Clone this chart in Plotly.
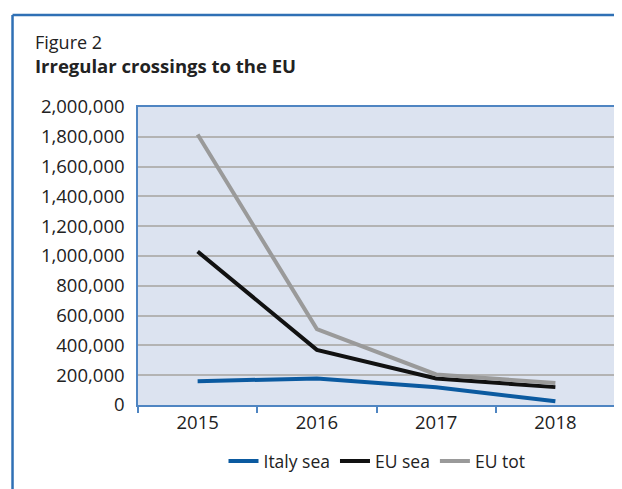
import plotly.graph_objects as go

years = ["2015", "2016", "2017", "2018"]
italy_sea = [160000, 178000, 119000, 25000]
eu_sea = [1030000, 370000, 178000, 120000]
eu_tot = [1815000, 510000, 205000, 147000]

series = [
    ("Italy sea", italy_sea, "#0b5aa0"),
    ("EU sea", eu_sea, "#111111"),
    ("EU tot", eu_tot, "#9a9a9a"),
]

FONT = "Open Sans"
OFF = 8  # default page body margin
W, H = 622 - OFF, 489 - OFF
ML, MT = 138 - OFF, 107 - OFF
MR = W - (617 - OFF)
MB = H - (405 - OFF)
PW = W - ML - MR
PH = H - MT - MB

def px_x(px):
    return (px - OFF - ML) / PW

def px_y(py):
    return (H - MB - (py - OFF)) / PH

fig = go.Figure()
for name, vals, col in series:
    fig.add_trace(go.Scatter(
        x=years, y=vals, name=name, mode="lines",
        line=dict(color=col, width=4),
    ))

frame_col = "#2f70b5"
fig.add_shape(type="line", xref="paper", yref="paper",
              x0=px_x(12), x1=px_x(12), y0=px_y(500), y1=px_y(15),
              line=dict(color=frame_col, width=2.5))
fig.add_shape(type="line", xref="paper", yref="paper",
              x0=px_x(12), x1=px_x(640), y0=px_y(15), y1=px_y(15),
              line=dict(color=frame_col, width=2.5))

fig.add_annotation(text="Figure 2", xref="paper", yref="paper",
                   x=px_x(33), y=px_y(42), xanchor="left", yanchor="middle",
                   showarrow=False, font=dict(family=FONT, size=18, color="#222222"))
fig.add_annotation(text="<b>Irregular crossings to the EU</b>", xref="paper", yref="paper",
                   x=px_x(33), y=px_y(66), xanchor="left", yanchor="middle",
                   showarrow=False, font=dict(family=FONT, size=18.5, color="#222222"))

axis_col = "#4f85c2"
fig.update_layout(
    width=W, height=H,
    margin=dict(l=ML, r=MR, t=MT, b=MB),
    paper_bgcolor="white",
    plot_bgcolor="#dce3f0",
    font=dict(family=FONT, size=18, color="#222222"),
    showlegend=True,
    legend=dict(orientation="h", x=px_x(378), y=px_y(461), xanchor="center", yanchor="middle",
                font=dict(family=FONT, size=17.5, color="#222222"), itemwidth=30,
                bgcolor="rgba(0,0,0,0)"),
    xaxis=dict(type="category", range=[-0.5, 3.5], tickson="boundaries",
               ticks="outside", ticklen=6, tickcolor=axis_col, tickwidth=1.5,
               showline=True, linecolor=axis_col, linewidth=1.5, mirror=True,
               showgrid=False, tickfont=dict(family=FONT, size=18.5, color="#222222")),
    yaxis=dict(range=[0, 2000000], tickvals=[i * 200000 for i in range(11)],
               tickformat=",d", ticks="", showline=True, linecolor=axis_col,
               linewidth=1.5, mirror=True, gridcolor="#b3b3b3", gridwidth=1.5,
               zeroline=False, ticklabelstandoff=8,
               tickfont=dict(family=FONT, size=18.5, color="#222222")),
)

fig.write_html("out.html")
